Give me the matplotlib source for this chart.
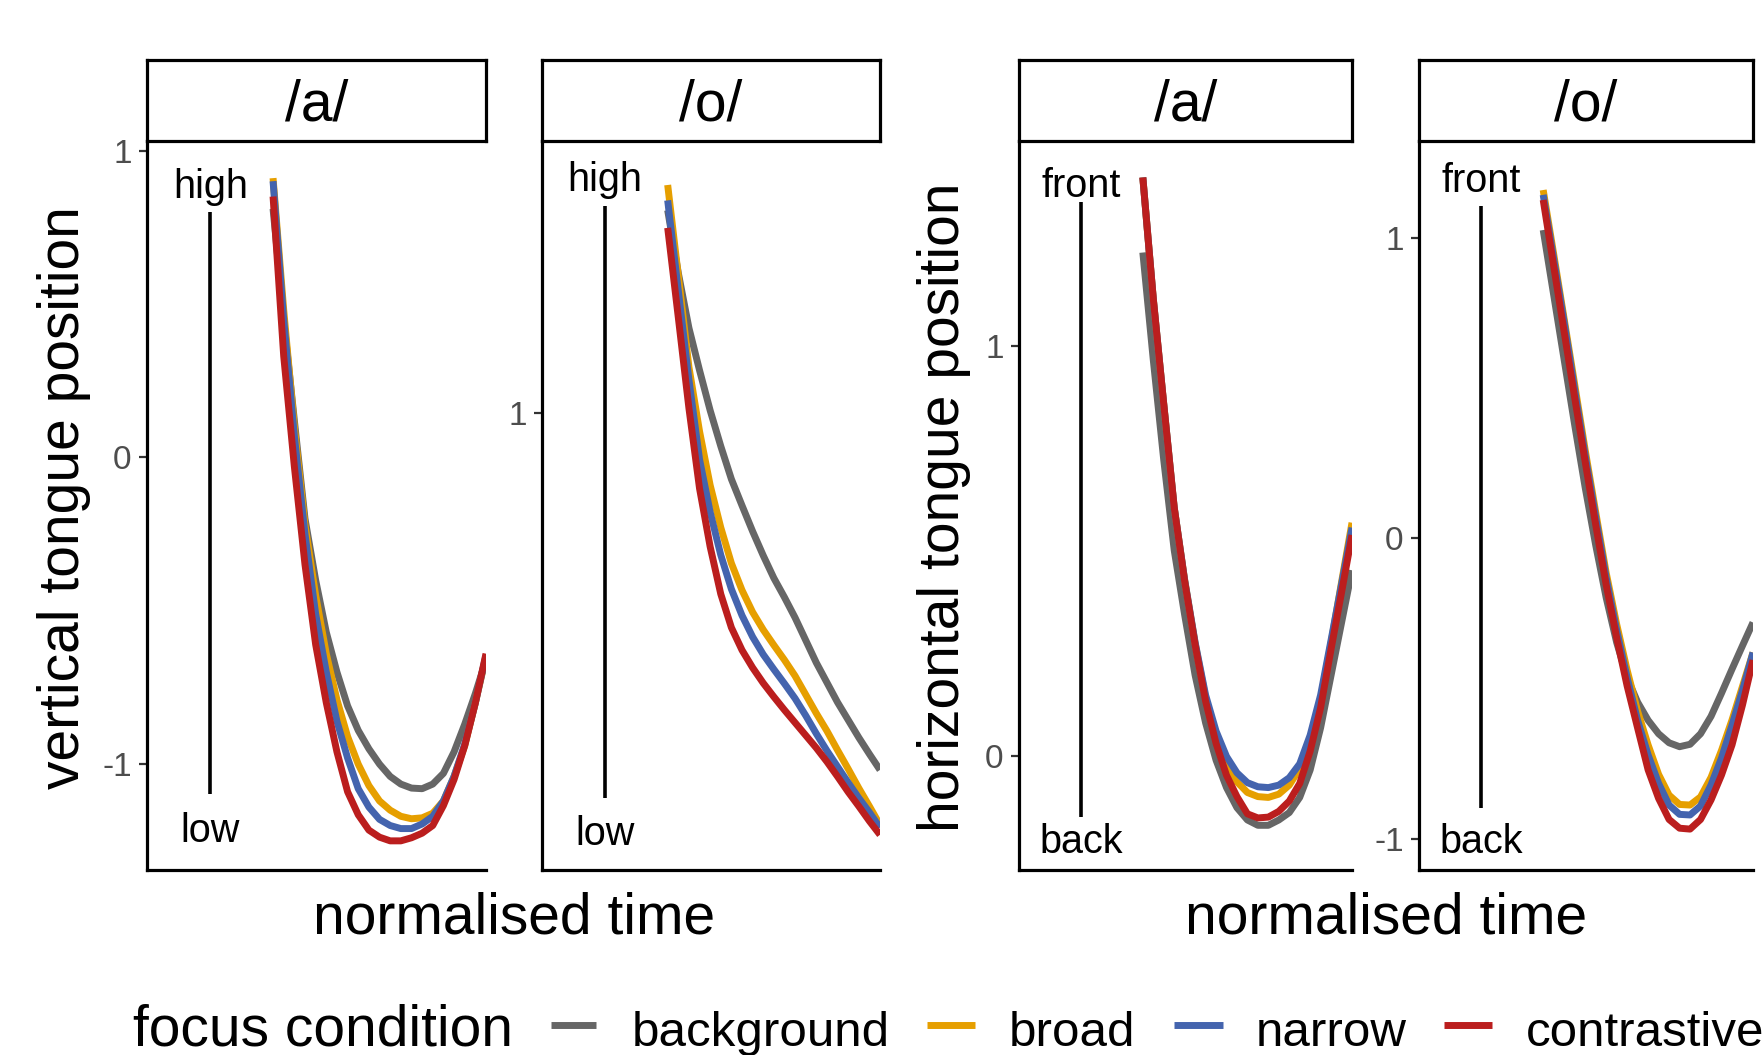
import numpy as np
import matplotlib
matplotlib.use("Agg")
import matplotlib.pyplot as plt
from matplotlib.lines import Line2D
from matplotlib.ticker import MultipleLocator, FuncFormatter

plt.rcParams['font.family'] = ['Liberation Sans', 'DejaVu Sans']
plt.rcParams['axes.unicode_minus'] = False

# ---------------- data ----------------
time = [0, 0.05, 0.1, 0.15, 0.2, 0.25, 0.3, 0.35, 0.4, 0.45, 0.5,
        0.55, 0.6, 0.65, 0.7, 0.75, 0.8, 0.85, 0.9, 0.95, 1.0]
conditions = ['background', 'broad', 'narrow', 'contrastive']
colors = ['#666666', '#E69F00', '#4464AE', '#BB1E1E']
vowels = ['/a/', '/o/', '/a/', '/o/']

# vertical tongue position, /a/
vert_a_background = [0.81, 0.45, 0.12, -0.20, -0.40, -0.57, -0.70, -0.81, -0.89, -0.95, -1.00,
                     -1.04, -1.065, -1.078, -1.08, -1.065, -1.03, -0.96, -0.87, -0.77, -0.66]
vert_a_broad = [0.91, 0.48, 0.10, -0.22, -0.45, -0.64, -0.79, -0.91, -1.00, -1.07, -1.12,
                -1.15, -1.17, -1.178, -1.175, -1.16, -1.12, -1.04, -0.94, -0.80, -0.65]
vert_a_narrow = [0.90, 0.45, 0.07, -0.25, -0.51, -0.70, -0.86, -0.98, -1.08, -1.14, -1.18,
                 -1.20, -1.21, -1.21, -1.195, -1.17, -1.12, -1.04, -0.935, -0.80, -0.645]
vert_a_contrastive = [0.85, 0.33, -0.03, -0.35, -0.61, -0.80, -0.96, -1.09, -1.165, -1.215, -1.238,
                      -1.25, -1.25, -1.24, -1.225, -1.20, -1.135, -1.05, -0.94, -0.80, -0.64]

# vertical tongue position, /o/
vert_o_background = [1.369, 1.255, 1.155, 1.078, 1.005, 0.94, 0.88, 0.832, 0.785, 0.741, 0.700,
                     0.665, 0.628, 0.587, 0.546, 0.510, 0.474, 0.442, 0.410, 0.380, 0.351]
vert_o_broad = [1.415, 1.250, 1.084, 0.967, 0.869, 0.792, 0.727, 0.678, 0.638, 0.606, 0.578,
                0.551, 0.522, 0.488, 0.454, 0.422, 0.387, 0.353, 0.318, 0.285, 0.251]
vert_o_narrow = [1.387, 1.223, 1.061, 0.916, 0.820, 0.742, 0.680, 0.632, 0.593, 0.561, 0.534,
                 0.508, 0.481, 0.450, 0.417, 0.386, 0.357, 0.328, 0.300, 0.274, 0.246]
vert_o_contrastive = [1.337, 1.174, 1.009, 0.863, 0.757, 0.671, 0.610, 0.569, 0.537, 0.509, 0.484,
                      0.460, 0.437, 0.414, 0.391, 0.366, 0.339, 0.311, 0.285, 0.258, 0.233]

# horizontal tongue position, /a/
horz_a_background = [1.229, 0.967, 0.723, 0.503, 0.345, 0.198, 0.082, -0.009, -0.076, -0.125, -0.155,
                     -0.168, -0.168, -0.155, -0.137, -0.100, -0.033, 0.070, 0.198, 0.326, 0.454]
horz_a_broad = [1.412, 1.116, 0.859, 0.607, 0.430, 0.276, 0.143, 0.050, -0.021, -0.062, -0.088,
                -0.098, -0.100, -0.092, -0.070, -0.030, 0.040, 0.140, 0.277, 0.425, 0.570]
horz_a_narrow = [1.412, 1.116, 0.859, 0.607, 0.430, 0.278, 0.150, 0.062, 0.000, -0.040, -0.064,
                 -0.074, -0.076, -0.070, -0.052, -0.018, 0.052, 0.150, 0.284, 0.420, 0.558]
horz_a_contrastive = [1.412, 1.116, 0.859, 0.607, 0.427, 0.272, 0.135, 0.032, -0.046, -0.098, -0.140,
                      -0.150, -0.148, -0.134, -0.109, -0.066, 0.013, 0.119, 0.262, 0.400, 0.540]

# horizontal tongue position, /o/
horz_o_background = [1.025, 0.809, 0.593, 0.377, 0.169, -0.022, -0.197, -0.346, -0.463, -0.545, -0.605,
                     -0.650, -0.680, -0.693, -0.685, -0.650, -0.592, -0.515, -0.435, -0.357, -0.280]
horz_o_broad = [1.158, 0.945, 0.729, 0.512, 0.294, 0.088, -0.114, -0.285, -0.438, -0.575, -0.687,
                -0.785, -0.854, -0.885, -0.887, -0.860, -0.795, -0.705, -0.604, -0.492, -0.380]
horz_o_narrow = [1.142, 0.930, 0.718, 0.495, 0.277, 0.072, -0.130, -0.305, -0.463, -0.605, -0.720,
                 -0.815, -0.887, -0.918, -0.920, -0.890, -0.820, -0.730, -0.621, -0.505, -0.380]
horz_o_contrastive = [1.125, 0.905, 0.686, 0.468, 0.255, 0.046, -0.154, -0.330, -0.491, -0.631, -0.770,
                      -0.865, -0.935, -0.964, -0.967, -0.935, -0.870, -0.787, -0.687, -0.554, -0.405]

panel_series = [
    [vert_a_background, vert_a_broad, vert_a_narrow, vert_a_contrastive],
    [vert_o_background, vert_o_broad, vert_o_narrow, vert_o_contrastive],
    [horz_a_background, horz_a_broad, horz_a_narrow, horz_a_contrastive],
    [horz_o_background, horz_o_broad, horz_o_narrow, horz_o_contrastive],
]
panel_ylims = [(-1.345, 1.031), (0.169, 1.495), (-0.277, 1.501), (-1.103, 1.321)]
annot_words = [('high', 'low'), ('high', 'low'), ('front', 'back'), ('front', 'back')]

# ---------------- layout ----------------
W, H = 1762, 1055
fig = plt.figure(figsize=(W / 100, H / 100), dpi=100)


def fx(px):
    return px / W


def fy(py):
    return 1 - py / H


panel_x = [(147, 486), (542, 880), (1019, 1352), (1419, 1753)]
ax_top, ax_bot, strip_top = 141, 870, 60
# axes-fraction positions: line top, line bottom, top word, bottom word
annot_pos = [(0.903, 0.104, 0.937, 0.054),
             (0.911, 0.099, 0.946, 0.050),
             (0.916, 0.073, 0.938, 0.038),
             (0.911, 0.085, 0.945, 0.038)]
ann_x = 0.187
LW = 5.0

for i in range(4):
    x0, x1 = panel_x[i]
    ax = fig.add_axes([fx(x0), fy(ax_bot), fx(x1 - x0), (ax_bot - ax_top) / H])
    for vals, col in zip(panel_series[i], colors):
        ax.plot(time, vals, color=col, lw=LW, solid_capstyle='butt',
                solid_joinstyle='round', zorder=3)
    ax.set_xlim(-0.592, 1.0)
    ax.set_ylim(*panel_ylims[i])
    ax.set_xticks([])
    ax.yaxis.set_major_locator(MultipleLocator(1))
    ax.yaxis.set_major_formatter(FuncFormatter(lambda v, p: '%d' % round(v)))
    ax.tick_params(axis='y', length=6, width=1.6, color='#333333', labelsize=24,
                   labelcolor='#4D4D4D', pad=5)
    for s in ['top', 'right']:
        ax.spines[s].set_visible(False)
    for s in ['left', 'bottom']:
        ax.spines[s].set_linewidth(2.3)
        ax.spines[s].set_color('black')
    lt, lb, tt, tb = annot_pos[i]
    ax.plot([ann_x, ann_x], [lb, lt], transform=ax.transAxes, color='black', lw=2.6,
            solid_capstyle='butt')
    ax.text(ann_x, tt, annot_words[i][0], transform=ax.transAxes, ha='center', va='center',
            fontsize=28.5)
    ax.text(ann_x, tb, annot_words[i][1], transform=ax.transAxes, ha='center', va='center',
            fontsize=28.5)

    sax = fig.add_axes([fx(x0), fy(ax_top), fx(x1 - x0), (ax_top - strip_top) / H])
    sax.set_xticks([])
    sax.set_yticks([])
    for s in sax.spines.values():
        s.set_linewidth(2.3)
        s.set_color('black')
    sax.text(0.5, 0.44, vowels[i], transform=sax.transAxes, ha='center', va='center',
             fontsize=41)

# axis titles
fig.text(fx(64), fy(498), 'vertical tongue position', rotation=90, ha='center', va='center',
         fontsize=41)
fig.text(fx(944), fy(507), 'horizontal tongue position', rotation=90, ha='center', va='center',
         fontsize=41)
fig.text(fx(514), fy(933), 'normalised time', ha='center', va='baseline', fontsize=41)
fig.text(fx(1386), fy(933), 'normalised time', ha='center', va='baseline', fontsize=41)

# legend
leg_base = 1046
fig.text(fx(133), fy(leg_base), 'focus condition', ha='left', va='baseline', fontsize=41)
key_x = [(551, 596), (927, 975), (1174, 1223), (1444, 1492)]
label_x = [632, 1009, 1256, 1526]
for (k0, k1), lx, cond, col in zip(key_x, label_x, conditions, colors):
    fig.add_artist(Line2D([fx(k0), fx(k1)], [fy(leg_base - 21.5), fy(leg_base - 21.5)],
                          color=col, lw=LW, transform=fig.transFigure, solid_capstyle='butt'))
    fig.text(fx(lx), fy(leg_base), cond, ha='left', va='baseline', fontsize=35.5)

fig.savefig('out.png', dpi=100)
